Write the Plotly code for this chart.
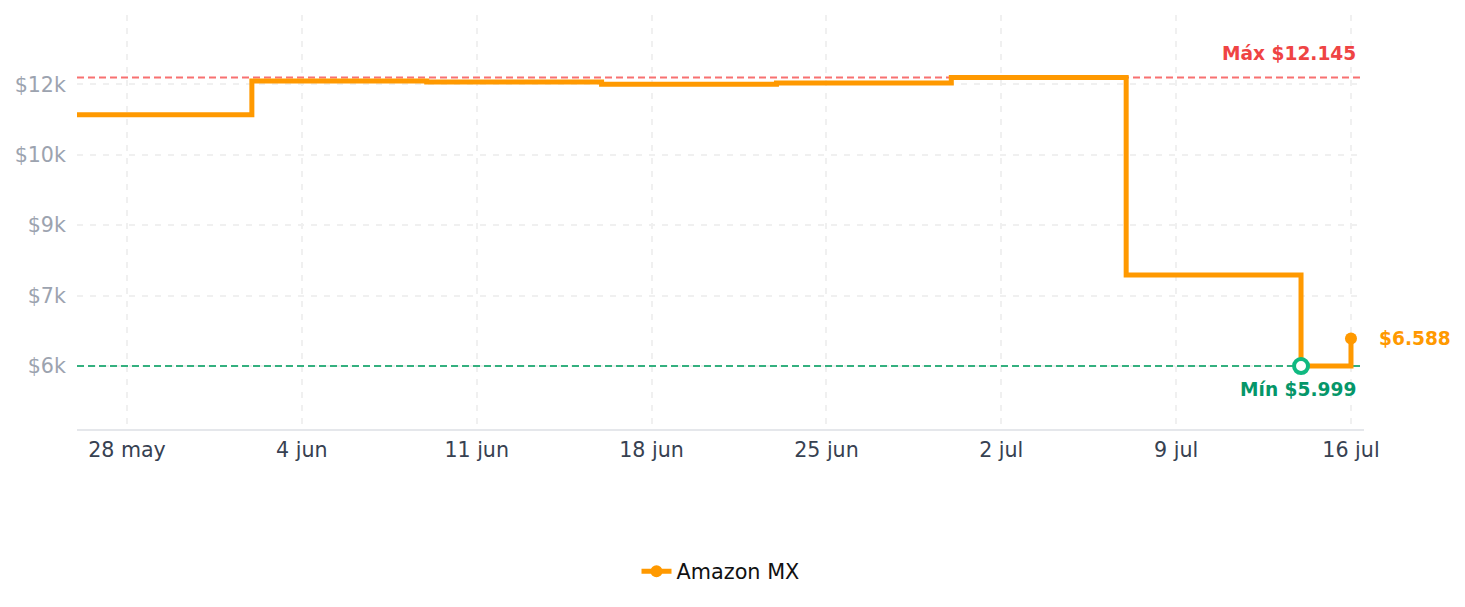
import plotly.graph_objects as go

# ---- data ----
dates = ["2024-05-26", "2024-06-02", "2024-06-09", "2024-06-16", "2024-06-23",
         "2024-06-30", "2024-07-07", "2024-07-14", "2024-07-16"]
prices = [11349, 12069, 12049, 11999, 12029, 12145, 7939, 5999, 6588]
series_name = "Amazon MX"

max_price = 12145
min_price = 5999
min_date = "2024-07-14"
last_price = 6588
last_date = "2024-07-16"

x_range = ["2024-05-26", "2024-07-16 12:30"]
x_tickvals = ["2024-05-28", "2024-06-04", "2024-06-11", "2024-06-18", "2024-06-25",
              "2024-07-02", "2024-07-09", "2024-07-16"]
x_ticktext = ["28 may", "4 jun", "11 jun", "18 jun", "25 jun", "2 jul", "9 jul", "16 jul"]
y_tickvals = [6000, 7500, 9000, 10500, 12000]
y_ticktext = ["$6k", "$7k", "$9k", "$10k", "$12k"]

ORANGE = "#FF9900"
FONT = "DejaVu Sans"
TICK_SIZE = 20.6

fig = go.Figure()

# reference lines (drawn as traces so they sit above the grid, below the series)
fig.add_trace(go.Scatter(
    x=x_range, y=[max_price, max_price], mode="lines",
    line=dict(color="#f87171", width=2, dash="7px,4px"),
    showlegend=False, hoverinfo="skip", cliponaxis=False))
fig.add_trace(go.Scatter(
    x=x_range, y=[min_price, min_price], mode="lines",
    line=dict(color="#34b07f", width=2, dash="7px,4px"),
    showlegend=False, hoverinfo="skip", cliponaxis=False))

fig.add_trace(go.Scatter(
    x=dates, y=prices, mode="lines", line=dict(color=ORANGE, width=5, shape="hv"),
    name=series_name, showlegend=False, hoverinfo="skip"))

fig.add_trace(go.Scatter(
    x=[last_date], y=[last_price], mode="markers",
    marker=dict(color=ORANGE, size=12), showlegend=False, hoverinfo="skip"))

fig.add_trace(go.Scatter(
    x=[min_date], y=[min_price], mode="markers",
    marker=dict(color="white", size=14, line=dict(color="#10b981", width=4)),
    showlegend=False, hoverinfo="skip"))

# legend entry
fig.add_trace(go.Scatter(
    x=[None], y=[None], mode="lines+markers", name=series_name,
    line=dict(color=ORANGE, width=5), marker=dict(color=ORANGE, size=12)))

fig.add_annotation(x=1, xref="paper", y=max_price, text="<b>Máx $12.145</b>",
                   showarrow=False, xanchor="right", yanchor="middle", xshift=-6, yshift=24,
                   font=dict(family=FONT, size=18.6, color="#ef4444"))
fig.add_annotation(x=1, xref="paper", y=min_price, text="<b>Mín $5.999</b>",
                   showarrow=False, xanchor="right", yanchor="middle", xshift=-6, yshift=-23,
                   font=dict(family=FONT, size=18.6, color="#059669"))
fig.add_annotation(x=last_date, y=last_price, text="<b>$6.588</b>",
                   showarrow=False, xanchor="left", yanchor="middle", xshift=26,
                   font=dict(family=FONT, size=18.6, color=ORANGE))

fig.update_layout(
    width=1465, height=607,
    margin=dict(l=77, r=101, t=15, b=178),
    paper_bgcolor="white", plot_bgcolor="white",
    font=dict(family=FONT, size=TICK_SIZE, color="#374151"),
    legend=dict(orientation="h", x=0.5, xanchor="center", y=-0.345, yanchor="middle",
                font=dict(family=FONT, size=20.8, color="#111111")),
    xaxis=dict(
        type="date", range=x_range,
        tickvals=x_tickvals, ticktext=x_ticktext,
        showgrid=True, gridcolor="#f0f0f0", gridwidth=1.5, griddash="6px,7px",
        showline=True, linecolor="#e5e7eb", linewidth=2,
        ticks="outside", ticklen=1, tickcolor="rgba(0,0,0,0)",
        tickfont=dict(family=FONT, size=TICK_SIZE, color="#374151"),
        zeroline=False, fixedrange=True),
    yaxis=dict(
        range=[4658, 13476], tickvals=y_tickvals, ticktext=y_ticktext,
        showgrid=True, gridcolor="#f0f0f0", gridwidth=1.5, griddash="6px,7px",
        showline=False, zeroline=False,
        ticks="outside", ticklen=6, tickcolor="rgba(0,0,0,0)",
        tickfont=dict(family=FONT, size=TICK_SIZE, color="#9ca3af"), fixedrange=True),
)

fig.write_html("out.html")
